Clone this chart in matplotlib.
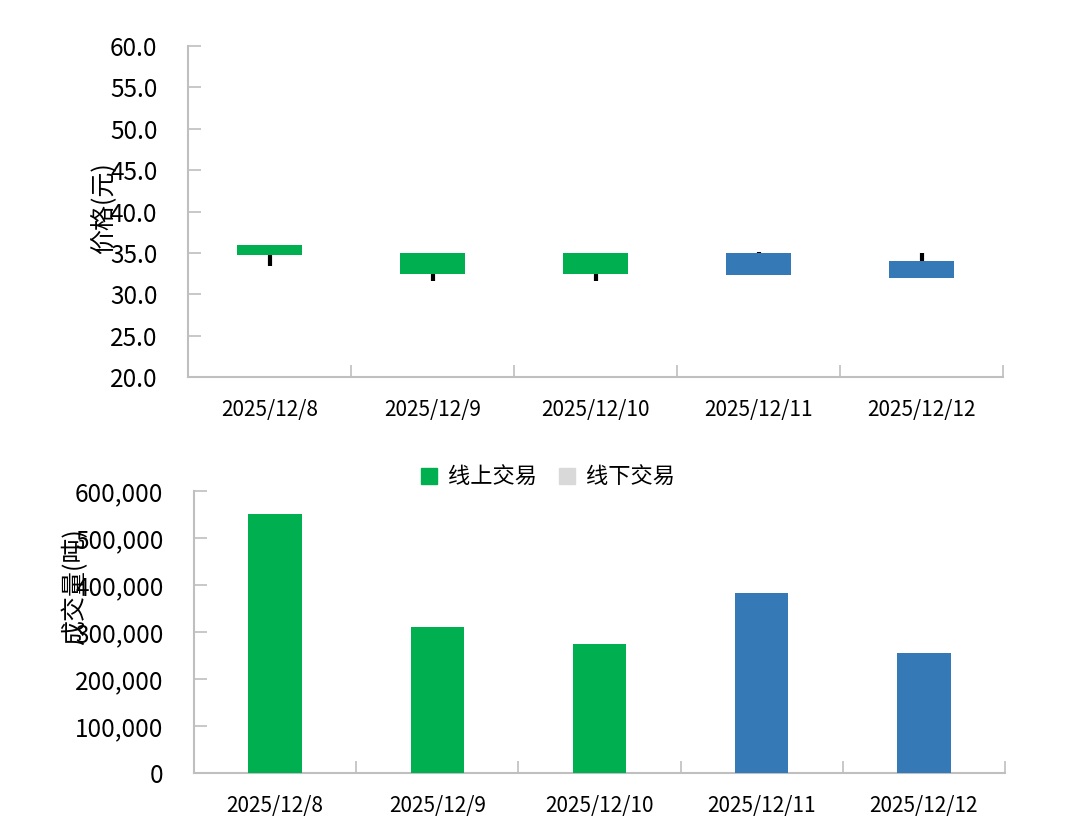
import matplotlib
matplotlib.use('Agg')
import matplotlib.pyplot as plt
from matplotlib.ticker import FuncFormatter, MultipleLocator, FixedLocator
from matplotlib.patches import Patch

plt.rcParams['font.family'] = ['Noto Sans CJK SC', 'DejaVu Sans']

dates = ['2025/12/8', '2025/12/9', '2025/12/10', '2025/12/11', '2025/12/12']

# 价格 (元)
open_ = [36.0, 35.0, 35.0, 35.0, 34.0]
close = [34.7, 32.5, 32.5, 32.3, 32.0]
high = [36.0, 35.0, 35.0, 35.1, 35.0]
low = [33.4, 31.6, 31.6, 32.3, 32.0]

# 成交量 (吨)
volume = [551000, 311000, 274000, 384000, 256000]

green = '#00B050'
blue = '#3579B6'
day_colors = [green, green, green, blue, blue]
grey_axis = '#BFBFBF'

fig = plt.figure(figsize=(10.8, 8.34), dpi=100)
ax1 = fig.add_axes([188 / 1080, 1 - 377 / 834, (1003 - 188) / 1080, (377 - 46) / 834])
ax2 = fig.add_axes([194 / 1080, 1 - 773 / 834, (1005 - 194) / 1080, (773 - 491) / 834])

x = list(range(len(dates)))


def style_axis(ax):
    for s in ['top', 'right']:
        ax.spines[s].set_visible(False)
    for s in ['left', 'bottom']:
        ax.spines[s].set_color(grey_axis)
        ax.spines[s].set_linewidth(1.5)
    ax.set_xlim(-0.5, len(dates) - 0.5)
    ax.set_xticks(x)
    ax.set_xticklabels(dates)
    ax.xaxis.set_minor_locator(FixedLocator([i + 0.5 for i in x]))
    ax.tick_params(axis='x', which='major', length=0, pad=16, labelsize=15)
    ax.tick_params(axis='x', which='minor', length=9, direction='in', color=grey_axis, width=1.2)
    ax.tick_params(axis='y', length=9, direction='in', color=grey_axis, width=1.2, pad=22, labelsize=17.5)


# top: candles
bottoms = [min(o, c) for o, c in zip(open_, close)]
heights = [abs(o - c) for o, c in zip(open_, close)]
ax1.vlines(x, low, high, colors='black', linewidth=3, zorder=2)
ax1.bar(x, heights, bottom=bottoms, width=0.4, color=day_colors, zorder=3)
ax1.set_ylim(20, 60)
ax1.yaxis.set_major_locator(MultipleLocator(5))
ax1.yaxis.set_major_formatter(FuncFormatter(lambda v, p: f'{v:.1f}'))
style_axis(ax1)
ax1.set_ylabel('价格(元)', fontsize=18)
ax1.yaxis.set_label_coords(-0.088, 0.51)

# bottom: volume bars
ax2.bar(x, volume, width=0.33, color=day_colors, zorder=3)
ax2.set_ylim(0, 600000)
ax2.yaxis.set_major_locator(MultipleLocator(100000))
ax2.yaxis.set_major_formatter(FuncFormatter(lambda v, p: f'{v:,.0f}'))
style_axis(ax2)
ax2.set_ylabel('成交量(吨)', fontsize=18)
ax2.yaxis.set_label_coords(-0.13, 0.66)

handles = [Patch(color=green, label='线上交易'), Patch(color='#D9D9D9', label='线下交易')]
fig.legend(handles=handles, loc='center', bbox_to_anchor=(548 / 1080, 1 - 477 / 834), ncol=2,
           frameon=False, fontsize=16, handlelength=0.7, handleheight=0.7, handletextpad=0.5,
           columnspacing=1.0)

fig.savefig('out.png', dpi=100)
